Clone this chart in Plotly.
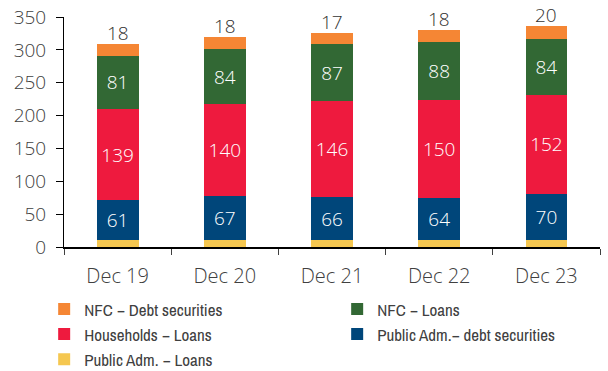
import plotly.graph_objects as go

categories = ["Dec 19", "Dec 20", "Dec 21", "Dec 22", "Dec 23"]
public_adm_loans = [10, 10, 10, 10, 10]
public_adm_debt = [61, 67, 66, 64, 70]
households_loans = [139, 140, 146, 150, 152]
nfc_loans = [81, 84, 87, 88, 84]
nfc_debt = [18, 18, 17, 18, 20]
y_ticks = [0, 50, 100, 150, 200, 250, 300, 350]

series = [
    ("Public Adm. − Loans", public_adm_loans, "#F5C750", None),
    ("Public Adm.− debt securities", public_adm_debt, "#00467A", "white"),
    ("Households − Loans", households_loans, "#EE1A3E", "white"),
    ("NFC − Loans", nfc_loans, "#326834", "white"),
    ("NFC − Debt securities", nfc_debt, "#F58634", None),
]

fig = go.Figure()
for name, vals, color, tcol in series:
    kw = dict(textposition="none")
    if tcol:
        kw = dict(text=[str(v) for v in vals], textposition="inside",
                  textfont=dict(family="Open Sans", size=19, color=tcol, weight=300),
                  insidetextanchor="middle")
    fig.add_trace(go.Bar(
        x=categories, y=vals, name=name, marker=dict(color=color, line=dict(width=0)),
        width=0.39, cliponaxis=False, hoverinfo="skip", **kw))

totals = [a + b + c + d + e for a, b, c, d, e in zip(public_adm_loans, public_adm_debt,
                                                     households_loans, nfc_loans, nfc_debt)]
for cat, tot, v in zip(categories, totals, nfc_debt):
    fig.add_annotation(x=cat, y=tot, text=str(v), showarrow=False, yanchor="bottom",
                       yshift=-4, font=dict(family="Open Sans", size=19, color="#333333", weight=300))

fig.update_layout(
    barmode="stack",
    width=608, height=371,
    margin=dict(l=64, r=8, t=17, b=124, autoexpand=False),
    paper_bgcolor="white", plot_bgcolor="white",
    font=dict(family="Open Sans", size=19, color="#404040"),
    showlegend=True,
    legend=dict(
        orientation="h", traceorder="reversed",
        x=-0.037, xanchor="left", y=-0.193, yanchor="top",
        entrywidth=248, entrywidthmode="pixels",
        font=dict(family="Archivo Narrow, Asap Condensed, Roboto", size=17, color="#404040", weight=400),
        itemwidth=30, tracegroupgap=0,
    ),
)
fig.update_xaxes(
    showline=True, linecolor="black", linewidth=1.5,
    ticks="outside", tickson="boundaries", ticklen=6, tickcolor="#404040",
    showgrid=False, tickfont=dict(size=20, weight=300), ticklabelstandoff=10,
)
fig.update_yaxes(
    range=[0, 350], tickvals=y_ticks, showline=True, linecolor="black", linewidth=1,
    ticks="outside", ticklen=7, tickcolor="black", showgrid=False, zeroline=False,
    tickfont=dict(size=19, weight=300), ticklabelstandoff=6,
)
fig.write_html("out.html", config={"displayModeBar": False},
               post_script="document.body.style.margin='0';document.body.style.overflow='hidden';")
